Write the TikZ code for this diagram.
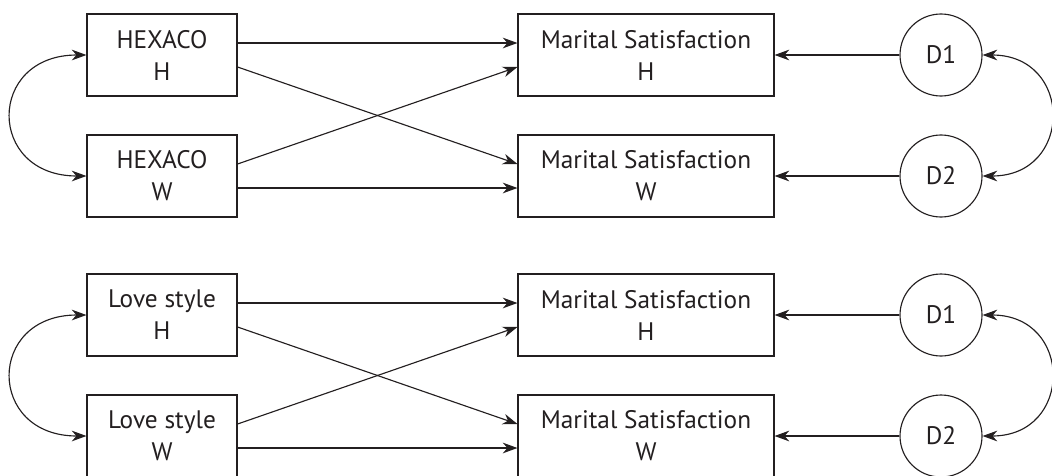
\documentclass[tikz,border=0pt]{standalone}
\usepackage{fontspec}
\setmainfont{PT Sans}
\usetikzlibrary{arrows.meta,calc}
\definecolor{ink}{HTML}{231F20}
\begin{document}
\begin{tikzpicture}[x=0.75pt,y=-0.75pt,
  every node/.style={font=\fontsize{19}{24}\selectfont, text=ink},
  boxl/.style={draw=ink, line width=0.85pt, rectangle, minimum width=112.5pt, minimum height=61.5pt, align=center, inner sep=0pt},
  boxm/.style={draw=ink, line width=0.85pt, rectangle, minimum width=192pt, minimum height=61.5pt, align=center, inner sep=0pt},
  dist/.style={draw=ink, line width=0.85pt, circle, minimum size=61.5pt, inner sep=0pt},
  tip/.tip={Stealth[length=11pt,width=8pt,inset=3.5pt]},
  conn/.style={draw=ink, line width=0.85pt, -tip},
  cov/.style={draw=ink, line width=0.85pt, tip-tip}
]
\useasboundingbox (0,0) rectangle (1052,475);
\foreach \gy/\lab/\g in {0/HEXACO/a, 260/Love style/b}{
  \node[boxl] (lh\g) at (162,55+\gy) {\lab\\H};
  \node[boxl] (lw\g) at (162,176+\gy) {\lab\\W};
  \node[boxm] (mh\g) at (646,55+\gy) {Marital Satisfaction\\H};
  \node[boxm] (mw\g) at (646,176+\gy) {Marital Satisfaction\\W};
  \node[dist] (d1\g) at (941,55+\gy) {D1};
  \node[dist] (d2\g) at (941,176+\gy) {D2};
  \draw[conn] ($(lh\g.east)+(0,-12)$) -- ($(mh\g.west)+(0,-12)$);
  \draw[conn] ($(lh\g.east)+(0,12)$) -- ($(mw\g.west)+(0,-12)$);
  \draw[conn] ($(lw\g.east)+(0,-12)$) -- ($(mh\g.west)+(0,12)$);
  \draw[conn] ($(lw\g.east)+(0,12)$) -- ($(mw\g.west)+(0,12)$);
  \draw[conn] (d1\g.west) -- (mh\g.east);
  \draw[conn] (d2\g.west) -- (mw\g.east);
  \draw[cov] (lh\g.west) .. controls +(-100,0) and +(-100,0) .. (lw\g.west);
  \draw[cov] (d1\g.east) .. controls +(91,0) and +(91,0) .. (d2\g.east);
}
\end{tikzpicture}
\end{document}
